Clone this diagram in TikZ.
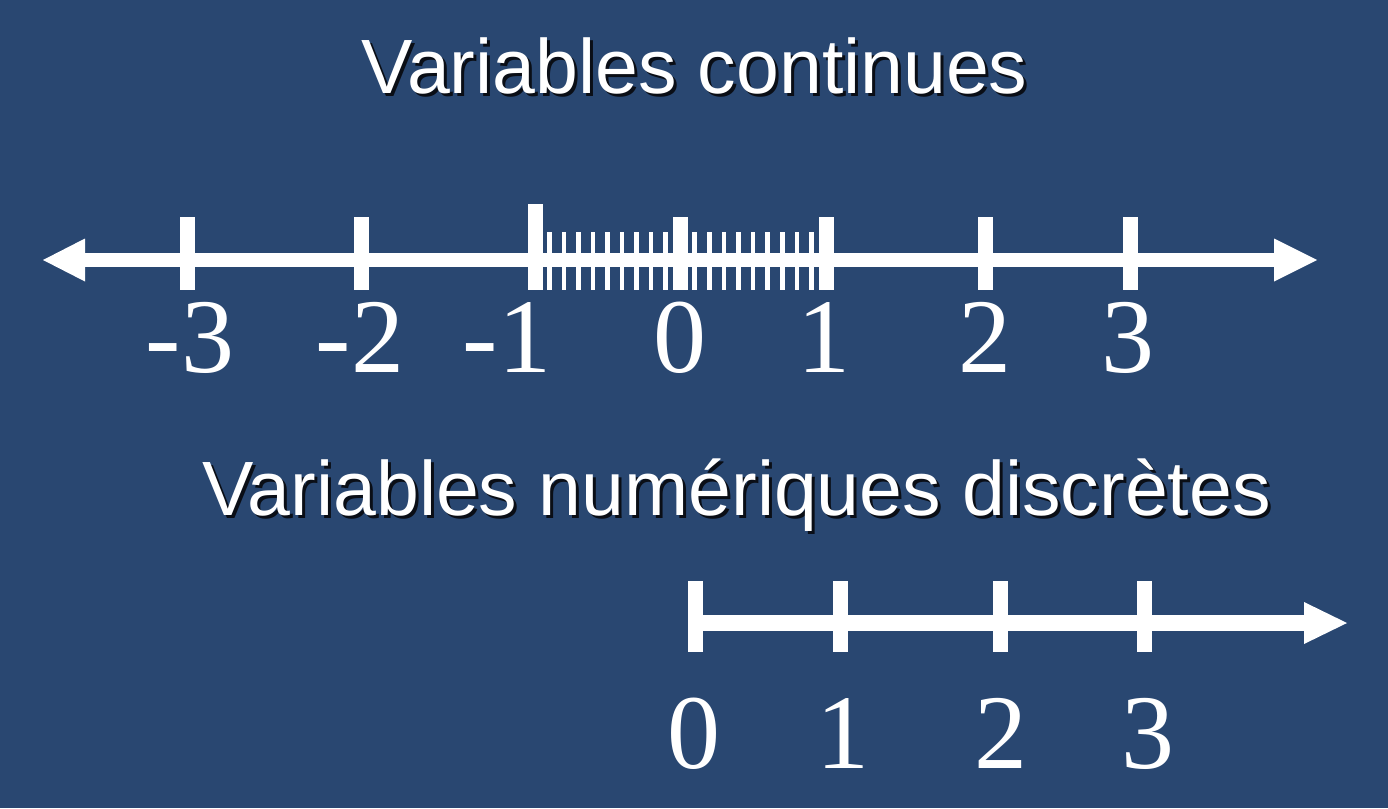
\documentclass[tikz,border=0pt]{standalone}
\usepackage{fontspec}
\setmainfont{Liberation Serif}
\newfontfamily\titlefont{Liberation Sans}
\definecolor{bg}{RGB}{41,71,113}
\definecolor{shadowc}{RGB}{10,14,22}
\newcommand{\shadowed}[1]{\rlap{\kern3pt\raisebox{-3pt}{\textcolor{shadowc}{#1}}}#1}
\begin{document}
\begin{tikzpicture}[x=1pt,y=-1pt,
  titletext/.style={font=\titlefont\fontsize{77}{80}\selectfont, text=white, inner sep=0pt, anchor=base},
  num/.style={font=\fontsize{106}{110}\selectfont, text=white, inner sep=0pt, anchor=base},
  axisline/.style={draw=white, line width=14pt},
  tickfill/.style={fill=white},
  headfill/.style={fill=white}
]
\useasboundingbox (0,0) rectangle (1388,808);
\fill[bg] (0,0) rectangle (1388,808);

% ---------- titles ----------
\node[titletext] (t1) at (694.5,93) {\shadowed{Variables continues}};
\node[titletext] (t2) at (736.5,515) {\shadowed{Variables numériques discrètes}};

% ---------- continuous axis ----------
\coordinate (Lbase) at (85,260);
\coordinate (Rbase) at (1274,260);
\coordinate (Ltip) at (43,260);
\coordinate (Rtip) at (1317,260);
\draw[axisline] (Lbase) -- (Rbase);
\fill[headfill] (Ltip) -- (85,238.5) -- (85,281.5) -- cycle;
\fill[headfill] (Rtip) -- (1274,238.5) -- (1274,281.5) -- cycle;

% major ticks
\foreach \x in {187,361,680,826,985,1130} {
  \fill[tickfill] (\x-7.5,217) rectangle (\x+7.5,290);
}
\fill[tickfill] (528,204) rectangle (543,290);
% fine ticks
\foreach \k in {1,...,9} {
  \fill[tickfill] (535+14.5*\k-2.3,232) rectangle (535+14.5*\k+2.3,290);
  \fill[tickfill] (680+14.6*\k-2.3,232) rectangle (680+14.6*\k+2.3,290);
}

% labels
\node[num] (lm3) at (190,372) {-3};
\node[num] (lm2) at (360,372) {-2};
\node[num] (lm1) at (507,372) {-1};
\node[num] (l0)  at (680,372) {0};
\node[num] (l1)  at (824,372) {1};
\node[num] (l2)  at (985,372) {2};
\node[num] (l3)  at (1128,372) {3};

% ---------- discrete axis ----------
\coordinate (Dstart) at (688,623);
\coordinate (Dbase) at (1304,623);
\coordinate (Dtip) at (1347,623);
\draw[draw=white, line width=15.5pt] (Dstart) -- (Dbase);
\fill[headfill] (Dtip) -- (1304,602) -- (1304,644) -- cycle;
\foreach \x in {695,840,1000,1144} {
  \fill[tickfill] (\x-7.5,581) rectangle (\x+7.5,652);
}
\node[num] (d0) at (694,768) {0};
\node[num] (d1) at (843,768) {1};
\node[num] (d2) at (1001,768) {2};
\node[num] (d3) at (1148,768) {3};
\end{tikzpicture}
\end{document}
